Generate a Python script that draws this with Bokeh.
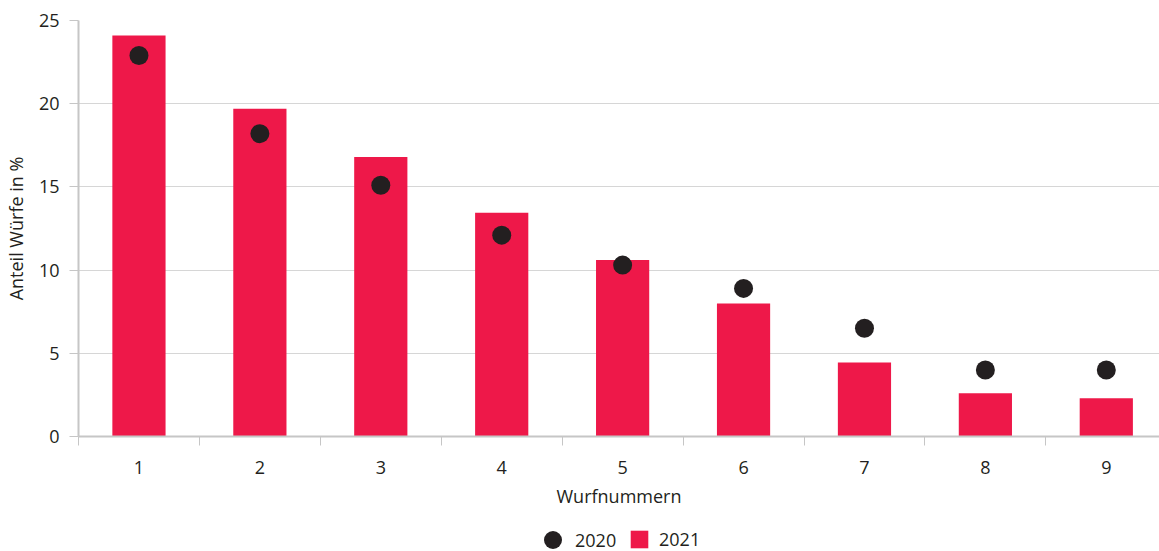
from bokeh.plotting import figure
from bokeh.models import Range1d, FixedTicker, Legend, LegendItem, ColumnDataSource
from bokeh.layouts import column
from bokeh.embed import file_html
from bokeh.resources import INLINE

wurf = [1, 2, 3, 4, 5, 6, 7, 8, 9]
tick_labels = {i: str(i) for i in wurf}
werte_2020 = [22.9, 18.2, 15.1, 12.1, 10.3, 8.9, 6.5, 4.0, 4.0]
werte_2021 = [24.1, 19.7, 16.8, 13.45, 10.6, 8.0, 4.45, 2.6, 2.3]
y_ticks = [0, 5, 10, 15, 20, 25]
serien = ["2020", "2021"]

FONT = "Open Sans"
FS = "18px"
TXT = "#231f20"
RED = "#ee1849"
DARK = "#231f20"
AXIS = "#c6c6c6"
GRID = "#d6d6d6"

src = ColumnDataSource(dict(x=wurf, a=werte_2020, b=werte_2021))

p = figure(width=1159, height=521, output_backend="svg", toolbar_location=None,
           x_range=Range1d(0.5, 9.44), y_range=Range1d(0, 25),
           min_border_left=77, min_border_right=0, min_border_top=20, min_border_bottom=85)
p.outline_line_color = None

p.vbar(x="x", top="b", width=0.44, source=src, fill_color=RED, line_color=None)
p.scatter(x="x", y="a", size=19, source=src, fill_color=DARK, line_color=None)

# x axis
p.xaxis.ticker = FixedTicker(ticks=wurf, minor_ticks=[i + 0.5 for i in range(0, 10)])
p.xaxis.major_label_overrides = tick_labels
p.xaxis.major_tick_out = 0
p.xaxis.major_tick_in = 0
p.xaxis.minor_tick_out = 9
p.xaxis.minor_tick_in = 0
p.xaxis.minor_tick_line_color = AXIS
p.xaxis.minor_tick_line_width = 1
p.xaxis.axis_line_color = AXIS
p.xaxis.axis_line_width = 2
p.xaxis.major_label_standoff = 15
p.xaxis.axis_label = "Wurfnummern"
p.xaxis.axis_label_standoff = 7
p.xgrid.grid_line_color = None

# y axis
p.yaxis.ticker = FixedTicker(ticks=y_ticks, minor_ticks=[])
p.yaxis.major_tick_out = 9
p.yaxis.major_tick_in = 0
p.yaxis.major_tick_line_color = AXIS
p.yaxis.major_tick_line_width = 1
p.yaxis.axis_line_color = AXIS
p.yaxis.axis_line_width = 2
p.yaxis.major_label_standoff = 10
p.yaxis.axis_label = "Anteil Würfe in %"
p.yaxis.axis_label_standoff = 8
p.ygrid.grid_line_color = GRID
p.ygrid.grid_line_width = 1

for ax in (p.xaxis, p.yaxis):
    ax.major_label_text_font = FONT
    ax.major_label_text_font_size = FS
    ax.major_label_text_color = TXT
    ax.axis_label_text_font = FONT
    ax.axis_label_text_font_size = FS
    ax.axis_label_text_font_style = "normal"
    ax.axis_label_text_color = TXT

# legend strip below the chart (its data lie outside its ranges, only the legend shows)
lf = figure(width=1159, height=30, output_backend="svg", toolbar_location=None,
            x_axis_location=None, y_axis_location=None,
            x_range=Range1d(100, 101), y_range=Range1d(100, 101), min_border=0)
lf.grid.grid_line_color = None
lf.outline_line_color = None
lf.background_fill_alpha = 0
lf.border_fill_alpha = 0
r_dot = lf.scatter(x="x", y="a", size=19, source=src, fill_color=DARK, line_color=None)
r_bar = lf.vbar(x="x", top="b", width=0.44, source=src, fill_color=RED, line_color=None)

common = dict(orientation="horizontal", label_text_font=FONT, label_text_font_size=FS,
              label_text_color=TXT, border_line_color=None, background_fill_alpha=0,
              padding=0, margin=0, label_height=20)
leg_a = Legend(items=[LegendItem(label=serien[0], renderers=[r_dot], index=0)],
               location=(452, -11), glyph_width=45, glyph_height=45, label_standoff=-3, **common)
leg_b = Legend(items=[LegendItem(label=serien[1], renderers=[r_bar], index=0)],
               location=(550, 0), glyph_width=22, glyph_height=22, label_standoff=9, **common)
lf.add_layout(leg_a, "center")
lf.add_layout(leg_b, "center")

layout = column(p, lf, spacing=0)
open("out.html", "w").write(file_html(layout, INLINE))
